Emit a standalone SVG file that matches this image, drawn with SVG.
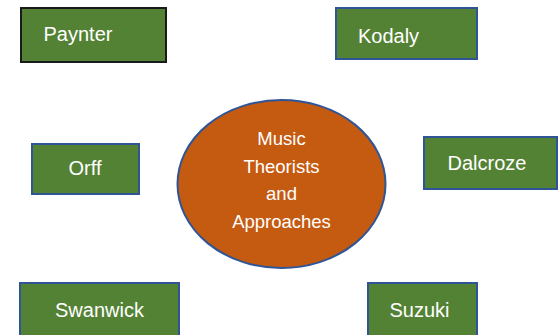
<svg xmlns="http://www.w3.org/2000/svg" width="560" height="335" viewBox="0 0 560 335">
<style>
.box{fill:#548235;stroke:#2F5597;stroke-width:2}
.lbl{font-family:"Liberation Sans",Arial,sans-serif;font-size:20px;fill:#FFFFFF;text-anchor:middle}
.clbl{font-family:"Liberation Sans",Arial,sans-serif;font-size:18.5px;fill:#FFFFFF;text-anchor:middle}
</style>
<rect width="560" height="335" fill="#FFFFFF"/>
<g id="center">
<ellipse cx="281.5" cy="184" rx="104" ry="84" fill="#C55A11" stroke="#2F5597" stroke-width="2"/>
<text class="clbl" x="281.5" y="145">Music</text>
<text class="clbl" x="281.5" y="173">Theorists</text>
<text class="clbl" x="281.5" y="200">and</text>
<text class="clbl" x="281.5" y="228">Approaches</text>
</g>
<g id="paynter">
<rect class="box" x="21" y="8" width="145" height="54" style="stroke:#1a1a1a"/>
<text class="lbl" x="78" y="41">Paynter</text>
</g>
<g id="kodaly">
<rect class="box" x="336" y="8" width="141" height="51"/>
<text class="lbl" x="388.5" y="43">Kodaly</text>
</g>
<g id="orff">
<rect class="box" x="32" y="144" width="107" height="50"/>
<text class="lbl" x="85" y="175">Orff</text>
</g>
<g id="dalcroze">
<rect class="box" x="424" y="137" width="133" height="52"/>
<text class="lbl" x="487" y="170">Dalcroze</text>
</g>
<g id="swanwick">
<rect class="box" x="20" y="283" width="159" height="60"/>
<text class="lbl" x="99.5" y="317">Swanwick</text>
</g>
<g id="suzuki">
<rect class="box" x="368" y="283" width="109" height="60"/>
<text class="lbl" x="419.5" y="317">Suzuki</text>
</g>
<g id="connectors"/>
</svg>
